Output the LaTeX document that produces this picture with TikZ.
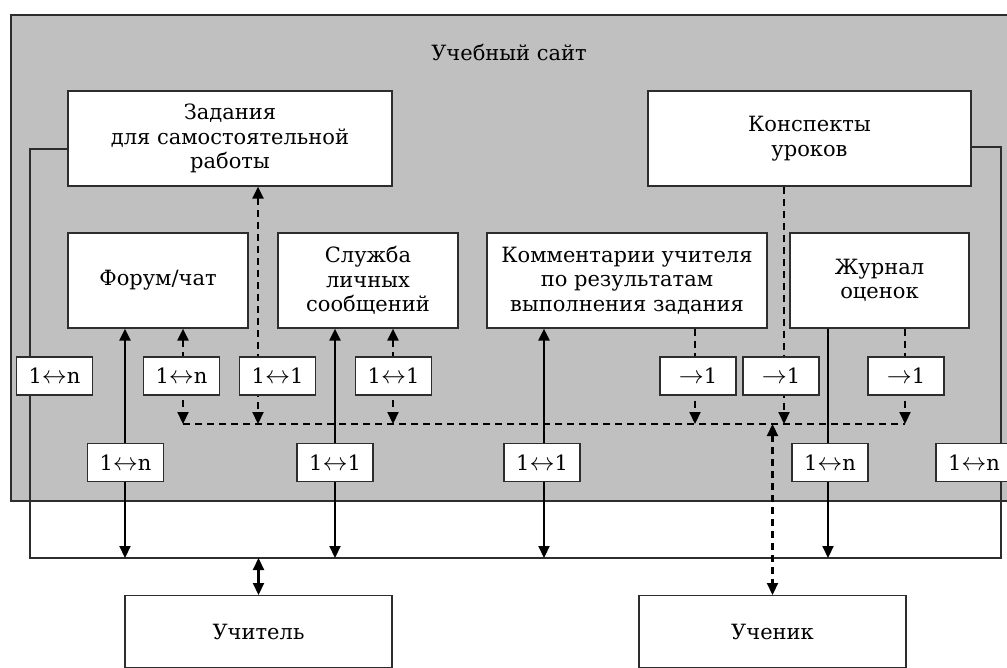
\RequirePackage{fix-cm}
\documentclass[tikz,border=0pt]{standalone}
\usepackage{fontspec}
\setmainfont{DejaVu Serif}
\usetikzlibrary{arrows.meta}
\definecolor{site}{RGB}{192,192,192}
\definecolor{edge}{RGB}{45,45,45}
\newcommand{\txt}{\fontsize{21}{24.5}\selectfont}
\newcommand{\lrarr}{{\fontsize{25}{25}\selectfont$\leftrightarrow$}}
\newcommand{\rarr}{{\fontsize{25}{25}\selectfont$\rightarrow$}}
\begin{document}
\begin{tikzpicture}[x=1pt,y=-1pt,
  >={Triangle[length=12pt,width=11pt]},
  box/.style={draw=edge,line width=1.2pt,fill=white,inner sep=0pt,align=center,font=\txt},
  big/.style={box,minimum height=95pt},
  tag/.style={box,minimum width=76pt,minimum height=38pt},
  person/.style={box,minimum width=267pt,minimum height=72pt,anchor=north},
  sol/.style={line width=2.2pt,draw=black},
  dsh/.style={line width=2.2pt,draw=black,dash pattern=on 7pt off 5pt},
  frame/.style={line width=1.2pt,draw=edge}]
\useasboundingbox (0,0) rectangle (1007,668);
% site area
\draw[frame,fill=site] (11,15) rectangle (1040,501);
\node[font=\txt] (title) at (509,52) {Учебный сайт};
% main boxes
\node[big,minimum width=324pt] (zad) at (230,138.5) {Задания\\для самостоятельной\\работы};
\node[big,minimum width=323pt] (kon) at (809.5,138.5) {Конспекты\\уроков};
\node[big,minimum width=180pt] (forum) at (158,280.5) {Форум/чат};
\node[big,minimum width=180pt] (sl) at (368,280.5) {Служба\\личных\\сообщений};
\node[big,minimum width=280pt] (kom) at (627,280.5) {Комментарии учителя\\по результатам\\выполнения задания};
\node[big,minimum width=179pt] (zh) at (879.5,280.5) {Журнал\\оценок};
\node[person] (tea) at (258.5,595) {Учитель};
\node[person] (stu) at (772.5,595) {Ученик};
% bus and junction points
\coordinate (busL) at (30,558);
\coordinate (busR) at (1001,558);
\coordinate (c1) at (125,558);
\coordinate (c2) at (335,558);
\coordinate (c3) at (544,558);
\coordinate (c4) at (828,558);
\coordinate (d0) at (183,424);
\coordinate (da) at (258,424);
\coordinate (db) at (393,424);
\coordinate (dc) at (695,424);
\coordinate (dd) at (784,424);
\coordinate (d1) at (905,424);
% thin frame line
\draw[frame] ([yshift=-10.5pt]zad.west) -| (busL) -- (busR) |- ([yshift=-8.5pt]kon.east);
% solid arrows
\draw[sol,<->] (forum.south -| c1) -- (c1);
\draw[sol,<->] (sl.south -| c2) -- (c2);
\draw[sol,<->] (kom.south -| c3) -- (c3);
\draw[sol,->] (zh.south -| c4) -- (c4);
\draw[sol,<->] (tea.north |- busL) -- (tea.north);
% dashed lines
\draw[dsh] (d0) -- (d1);
\draw[dsh,<->] (forum.south -| d0) -- (d0);
\draw[dsh,<->] (zad.south -| da) -- (da);
\draw[dsh,<->] (sl.south -| db) -- (db);
\draw[dsh,->] (kom.south -| dc) -- (dc);
\draw[dsh,->] (kon.south -| dd) -- (dd);
\draw[dsh,->] (zh.south -| d1) -- (d1);
\draw[dsh,<->] (stu.north |- d0) -- (stu.north);
% multiplicity tags
\node[tag] (t1) at (54.5,376) {1\lrarr n};
\node[tag] (t2) at (181.5,376) {1\lrarr n};
\node[tag] (t3) at (277.5,376) {1\lrarr 1};
\node[tag] (t4) at (393.5,376) {1\lrarr 1};
\node[tag] (r1) at (698,376) {\rarr 1};
\node[tag] (r2) at (781,376) {\rarr 1};
\node[tag] (r3) at (906,376) {\rarr 1};
\node[tag] (m1) at (125.5,462.5) {1\lrarr n};
\node[tag] (m2) at (335,462.5) {1\lrarr 1};
\node[tag] (m3) at (542,462.5) {1\lrarr 1};
\node[tag] (m4) at (830,462.5) {1\lrarr n};
\node[tag] (m5) at (974,462.5) {1\lrarr n};
\end{tikzpicture}
\end{document}
